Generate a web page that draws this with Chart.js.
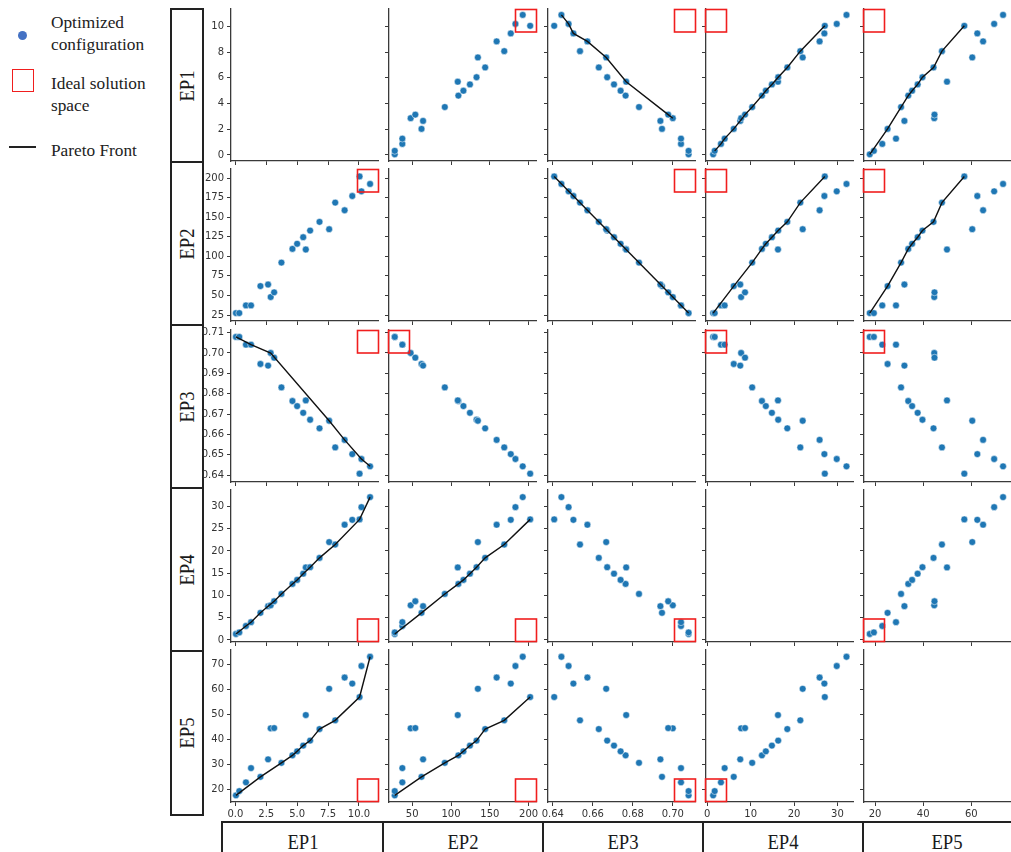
<!DOCTYPE html>
<html><head><meta charset="utf-8">
<script src="https://cdn.jsdelivr.net/npm/chart.js@4.4.0/dist/chart.umd.min.js"></script>
<style>
html,body{margin:0;padding:0;background:#fff;}
body{width:1011px;height:852px;position:relative;overflow:hidden;font-family:"Liberation Serif","Times New Roman",serif;color:#1a1a1a;}
canvas{position:absolute;}
.lg{position:absolute;font-family:"Liberation Serif","Times New Roman",serif;font-size:17.3px;line-height:22px;white-space:nowrap;color:#222;}
.rowbox{position:absolute;left:170px;width:34px;border:2px solid #222;box-sizing:border-box;}
.rowbox span{position:absolute;left:50%;top:50%;font-family:"Liberation Serif","Times New Roman",serif;font-size:22px;transform:translate(-50%,-50%) rotate(-90deg) scaleX(0.85);white-space:nowrap;}
.colbox{position:absolute;top:821px;height:60px;border:2px solid #222;box-sizing:border-box;}
.colbox span{position:absolute;left:50%;top:8px;font-family:"Liberation Serif","Times New Roman",serif;font-size:22px;transform:translateX(-50%) scaleX(0.85);white-space:nowrap;line-height:22px;}
</style></head><body>

<div style="position:absolute;left:18px;top:31px;width:9px;height:9px;border-radius:50%;background:#4472c4;"></div>
<div class="lg" style="left:51px;top:12px;">Optimized<br>configuration</div>
<div style="position:absolute;left:12px;top:69px;width:22px;height:23px;border:1.6px solid #f01e1e;box-sizing:border-box;"></div>
<div class="lg" style="left:51px;top:73px;">Ideal solution<br>space</div>
<div style="position:absolute;left:9px;top:146px;width:27px;height:1.6px;background:#222;"></div>
<div class="lg" style="left:51px;top:140px;">Pareto Front</div>

<div id="labels"></div>
<div id="charts"></div>

<script>
// ---- data: one entry per optimized configuration ----
const ep1 = [0.05, 0.32, 0.86, 1.27, 2.03, 2.65, 2.86, 3.14, 3.73, 4.62, 5.00, 5.49, 5.70, 6.05, 6.81, 7.59, 8.08, 8.84, 9.46, 10.05, 10.20, 10.90];
const ep2 = [27.5, 27.5, 37.3, 37.3, 62.0, 64.0, 48.0, 54.0, 92.0, 109.5, 116.0, 124.4, 108.7, 132.9, 144.0, 134.6, 168.6, 158.8, 177.0, 202.0, 183.0, 192.4];
const ep3 = [0.7079, 0.7079, 0.7041, 0.7041, 0.6946, 0.6938, 0.7000, 0.6977, 0.6831, 0.6764, 0.6739, 0.6706, 0.6767, 0.6672, 0.6630, 0.6667, 0.6536, 0.6573, 0.6503, 0.6407, 0.6479, 0.6443];
const ep4 = [1.35, 1.70, 3.15, 4.00, 6.10, 7.60, 7.80, 8.70, 10.35, 12.60, 13.50, 14.90, 16.30, 16.35, 18.45, 22.00, 21.45, 25.90, 27.00, 27.10, 29.85, 32.10];
const ep5 = [17.8, 19.5, 23.0, 28.7, 25.2, 32.2, 44.6, 44.7, 30.8, 33.8, 35.4, 37.7, 49.9, 39.7, 44.3, 60.4, 47.8, 64.9, 62.5, 57.1, 69.5, 73.2];

const varNames = ["EP1", "EP2", "EP3", "EP4", "EP5"];

// tick values and labels
const xTicks = [[0, 2.5, 5, 7.5, 10], [50, 100, 150, 200], [0.64, 0.66, 0.68, 0.70], [0, 10, 20, 30], [20, 40, 60]];
const xTickLabels = [["0.0", "2.5", "5.0", "7.5", "10.0"], ["50", "100", "150", "200"], ["0.64", "0.66", "0.68", "0.70"], ["0", "10", "20", "30"], ["20", "40", "60"]];
const yTicks = [[0, 2, 4, 6, 8, 10], [25, 50, 75, 100, 125, 150, 175, 200], [0.64, 0.65, 0.66, 0.67, 0.68, 0.69, 0.70, 0.71], [0, 5, 10, 15, 20, 25, 30], [20, 30, 40, 50, 60, 70]];
const yTickLabels = [["0", "2", "4", "6", "8", "10"], ["25", "50", "75", "100", "125", "150", "175", "200"], ["0.64", "0.65", "0.66", "0.67", "0.68", "0.69", "0.70", "0.71"], ["0", "5", "10", "15", "20", "25", "30"], ["20", "30", "40", "50", "60", "70"]];

// Pareto-front members per panel ("row,col" = y variable, x variable), indices into the arrays above
const paretoFronts = {
  "0,2": [21, 20, 18, 17, 15, 12, 7, 6],
  "0,3": [1, 2, 3, 4, 5, 7, 8, 9, 10, 11, 13, 14, 16, 19],
  "0,4": [0, 4, 8, 9, 10, 11, 13, 14, 16, 19],
  "1,2": [19, 0],
  "1,3": [0, 4, 8, 9, 10, 11, 13, 14, 16, 19],
  "1,4": [0, 4, 8, 9, 10, 11, 13, 14, 16, 19],
  "2,0": [0, 3, 6, 15, 17, 20, 21],
  "3,0": [0, 2, 3, 4, 5, 7, 8, 9, 10, 11, 13, 14, 16, 19, 21],
  "3,1": [0, 4, 8, 9, 10, 11, 13, 14, 16, 19],
  "4,0": [0, 4, 8, 9, 10, 11, 13, 14, 16, 19, 21],
  "4,1": [0, 4, 8, 9, 10, 11, 13, 14, 16, 19]
};

// corner of each panel holding the ideal-solution box
const idealCorner = [
  [null, "tr", "tr", "tl", "tl"],
  ["tr", null, "tr", "tl", "tl"],
  ["tr", "tl", null, "tl", "tl"],
  ["br", "br", "br", null, "bl"],
  ["br", "br", "br", "bl", null]
];

// ---- layout / styles ----
const vars = [ep1, ep2, ep3, ep4, ep5];
const xRanges = [[-0.35, 11.54], [20.1, 209.5], [0.6376, 0.7111], [-0.3, 33.6], [15.4, 76.5]];
const yRanges = [[-0.47, 11.36], [17.4, 211.5], [0.6366, 0.7113], [-0.45, 33.7], [15.15, 75.9]];
const colLeft = [231, 389, 548, 706, 864];
const rowTop = [9, 169, 330, 490, 650];
const PW = 147, PH = 152, L = 45, T = 10, R = 12, B = 26;
const AX = '#3a3a3a';

const idealBox = {
  id: 'idealBox',
  afterDatasetsDraw(chart, args, opts) {
    if (!opts.corner) return;
    const a = chart.chartArea, ctx = chart.ctx;
    const w = 21, h = 22.5;
    const x = opts.corner[1] === 'l' ? a.left - 0.5 : a.right + 0.5 - w;
    const y = opts.corner[0] === 't' ? a.top + 0.5 : a.bottom - 0.5 - h;
    ctx.save();
    ctx.strokeStyle = '#f01e1e';
    ctx.lineWidth = 1.6;
    ctx.strokeRect(x, y, w, h);
    ctx.restore();
  }
};

const labelsDiv = document.getElementById('labels');
const rowEdges = [9, 162, 325, 488, 651, 815];
for (let r = 0; r < 5; r++) {
  const d = document.createElement('div');
  d.className = 'rowbox';
  d.style.top = (rowEdges[r] - 1) + 'px';
  d.style.height = (rowEdges[r + 1] - rowEdges[r] + 2) + 'px';
  d.innerHTML = '<span>' + varNames[r] + '</span>';
  labelsDiv.appendChild(d);
}
const colEdges = [222, 383, 543, 703, 863, 1030];
for (let c = 0; c < 5; c++) {
  const d = document.createElement('div');
  d.className = 'colbox';
  d.style.left = (colEdges[c] - 1) + 'px';
  d.style.width = (colEdges[c + 1] - colEdges[c] + 2) + 'px';
  d.innerHTML = '<span>' + varNames[c] + '</span>';
  labelsDiv.appendChild(d);
}

const chartsDiv = document.getElementById('charts');
for (let r = 0; r < 5; r++) {
  for (let c = 0; c < 5; c++) {
    const cv = document.createElement('canvas');
    cv.width = L + PW + R;
    cv.height = T + PH + B;
    cv.style.left = (colLeft[c] - L) + 'px';
    cv.style.top = (rowTop[r] - T) + 'px';
    cv.style.width = cv.width + 'px';
    cv.style.height = cv.height + 'px';
    chartsDiv.appendChild(cv);

    const datasets = [];
    const front = paretoFronts[r + ',' + c];
    if (front) {
      const pts = front.map(i => ({ x: vars[c][i], y: vars[r][i] })).sort((a, b) => a.x - b.x);
      datasets.push({ data: pts, showLine: true, borderColor: '#111', borderWidth: 1.4, pointRadius: 0, fill: false, tension: 0 });
    }
    if (r !== c) {
      const pts = vars[c].map((v, i) => ({ x: v, y: vars[r][i] }));
      datasets.push({ data: pts, showLine: false, pointRadius: 3.4, backgroundColor: '#1f77b4', borderColor: '#ffffff', borderWidth: 0.5 });
    }

    new Chart(cv, {
      type: 'scatter',
      data: { datasets },
      plugins: [idealBox],
      options: {
        responsive: false, animation: false, events: [],
        layout: { padding: { top: T, right: R, left: 0, bottom: 0 } },
        plugins: { legend: { display: false }, tooltip: { enabled: false }, idealBox: { corner: idealCorner[r][c] } },
        scales: {
          x: {
            type: 'linear', min: xRanges[c][0], max: xRanges[c][1],
            afterFit(s) { s.height = B; },
            afterBuildTicks(s) { s.ticks = xTicks[c].map(v => ({ value: v })); },
            grid: { display: true, drawOnChartArea: false, drawTicks: true, tickLength: 4, color: AX, lineWidth: 1 },
            border: { display: true, color: AX, width: 1.3 },
            ticks: { display: r === 4, padding: 2, autoSkip: false, maxRotation: 0, color: '#333', font: { family: 'DejaVu Sans', size: 10 },
              callback: (v) => xTickLabels[c][xTicks[c].indexOf(v)] }
          },
          y: {
            type: 'linear', min: yRanges[r][0], max: yRanges[r][1],
            afterFit(s) { s.width = L; },
            afterBuildTicks(s) { s.ticks = yTicks[r].map(v => ({ value: v })); },
            grid: { display: true, drawOnChartArea: false, drawTicks: true, tickLength: 4, color: AX, lineWidth: 1 },
            border: { display: true, color: AX, width: 1.3 },
            ticks: { display: c === 0, padding: 3, autoSkip: false, color: '#333', font: { family: 'DejaVu Sans', size: 10 },
              callback: (v) => yTickLabels[r][yTicks[r].indexOf(v)] }
          }
        }
      }
    });
  }
}
</script>
</body></html>
